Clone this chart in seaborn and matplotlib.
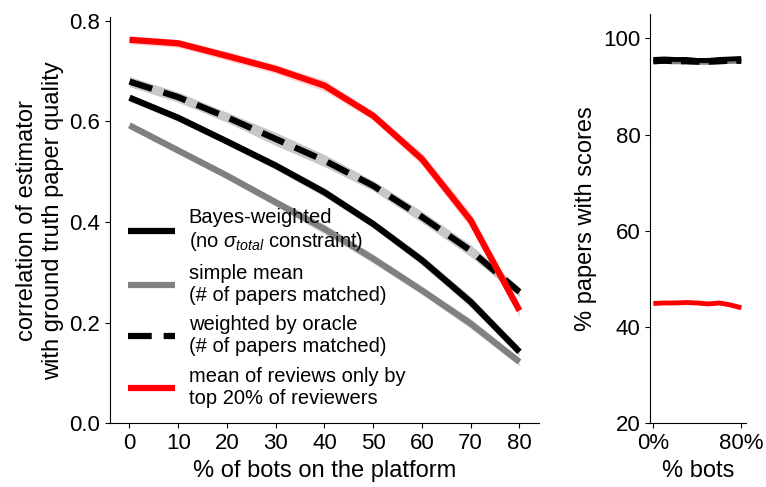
import numpy as np
import pandas as pd
import seaborn as sns
import matplotlib
matplotlib.use('Agg')
import matplotlib.pyplot as plt

# percentage of bots on the platform
pct_bots = [0, 10, 20, 30, 40, 50, 60, 70, 80]

# correlation with ground truth paper quality
corr_bayes = [0.647, 0.607, 0.560, 0.512, 0.459, 0.396, 0.324, 0.241, 0.142]
corr_simple = [0.592, 0.542, 0.492, 0.439, 0.386, 0.327, 0.264, 0.198, 0.122]
corr_oracle = [0.679, 0.648, 0.608, 0.565, 0.522, 0.472, 0.410, 0.343, 0.261]
corr_top20 = [0.762, 0.755, 0.730, 0.704, 0.671, 0.611, 0.525, 0.403, 0.224]

# half width of the shaded bands
ci_bayes = [0.007, 0.007, 0.007, 0.008, 0.009, 0.008, 0.010, 0.011, 0.008]
ci_simple = [0.007, 0.007, 0.007, 0.008, 0.010, 0.009, 0.008, 0.010, 0.008]
ci_oracle = [0.010, 0.010, 0.010, 0.013, 0.012, 0.010, 0.011, 0.012, 0.009]
ci_top20 = [0.008, 0.008, 0.009, 0.009, 0.011, 0.009, 0.012, 0.015, 0.013]

# % papers with scores
cov_bayes = [95.6, 95.7, 95.6, 95.6, 95.4, 95.4, 95.6, 95.7, 95.8]
cov_simple = [95.1, 95.2, 95.1, 95.1, 95.0, 95.0, 95.1, 95.2, 95.2]
cov_oracle = [95.1, 95.2, 95.1, 95.1, 95.0, 95.0, 95.1, 95.2, 95.2]
cov_top20 = [44.9, 45.0, 45.0, 45.1, 45.0, 44.8, 45.0, 44.6, 44.0]

labels = ["Bayes-weighted\n(no $\\sigma_{total}$ constraint)",
          "simple mean\n(# of papers matched)",
          "weighted by oracle\n(# of papers matched)",
          "mean of reviews only by\ntop 20% of reviewers"]

sns.set_style('ticks')
plt.rcParams['font.family'] = ['Liberation Sans', 'DejaVu Sans']
plt.rcParams['mathtext.fontset'] = 'custom'
plt.rcParams['mathtext.rm'] = 'Liberation Sans'
plt.rcParams['mathtext.it'] = 'Liberation Sans:italic'
for k in ['xtick.color', 'ytick.color', 'axes.edgecolor', 'text.color',
          'axes.labelcolor']:
    plt.rcParams[k] = 'black'

df = pd.DataFrame({
    'pct': pct_bots,
    'bayes': corr_bayes, 'simple': corr_simple,
    'oracle': corr_oracle, 'top20': corr_top20,
})

fig = plt.figure(figsize=(7.66, 4.87), dpi=100)
ax = fig.add_axes([0.1436, 0.1308, 0.560, 0.834])
ax2 = fig.add_axes([0.8486, 0.1308, 0.1249, 0.840])

LW = 4.5
DASH = (0, (3.8, 1.9))
styles = [
    ('bayes', corr_bayes, ci_bayes, 'black', '-', '#9a9a9a', 0.45, 3),
    ('simple', corr_simple, ci_simple, 'grey', '-', '#c4c4c4', 0.6, 2),
    ('oracle', corr_oracle, ci_oracle, 'black', DASH, '#c8c8c8', 1.0, 4),
    ('top20', corr_top20, ci_top20, 'red', '-', '#ff9a9a', 0.45, 5),
]
for (key, vals, ci, col, ls, bcol, balpha, z), lab in zip(styles, labels):
    v = np.array(vals)
    c = np.array(ci)
    ax.fill_between(pct_bots, v - c, v + c, color=bcol, alpha=balpha,
                    lw=0, zorder=z - 0.5)
    sns.lineplot(data=df, x='pct', y=key, ax=ax, color=col, linestyle=ls,
                 lw=LW, label=lab, zorder=z, solid_capstyle='butt',
                 dash_capstyle='butt')

ax.set_xlim(-4, 84)
ax.set_ylim(0, 0.807)
ax.set_xticks(pct_bots)
ax.set_yticks([0.0, 0.2, 0.4, 0.6, 0.8])
ax.set_xlabel('% of bots on the platform', fontsize=17)
ax.set_ylabel('correlation of estimator\nwith ground truth paper quality',
              fontsize=17)
ax.tick_params(labelsize=16)
ax.legend(loc='lower left', bbox_to_anchor=(0.0, -0.006), frameon=False,
          fontsize=14.5, handlelength=2.35, handletextpad=0.65,
          labelspacing=0.52)

cov = pd.DataFrame({'pct': pct_bots, 'bayes': cov_bayes,
                    'simple': cov_simple, 'oracle': cov_oracle,
                    'top20': cov_top20})
sns.lineplot(data=cov, x='pct', y='simple', ax=ax2, color='grey', lw=3.5,
             solid_capstyle='butt')
sns.lineplot(data=cov, x='pct', y='bayes', ax=ax2, color='black', lw=3.5,
             solid_capstyle='butt')
sns.lineplot(data=cov, x='pct', y='oracle', ax=ax2, color='black',
             linestyle=DASH, lw=3.5, dash_capstyle='butt')
sns.lineplot(data=cov, x='pct', y='top20', ax=ax2, color='red', lw=3.5,
             solid_capstyle='butt')
ax2.set_xlim(-3, 84)
ax2.set_ylim(20, 105)
ax2.set_xticks([0, 80])
ax2.set_xticklabels(['0%', '80%'])
ax2.set_yticks([20, 40, 60, 80, 100])
ax2.set_xlabel('% bots', fontsize=17)
ax2.set_ylabel('% papers with scores', fontsize=17)
ax2.tick_params(labelsize=16)

sns.despine(fig=fig)
fig.savefig('out.png', dpi=100)
